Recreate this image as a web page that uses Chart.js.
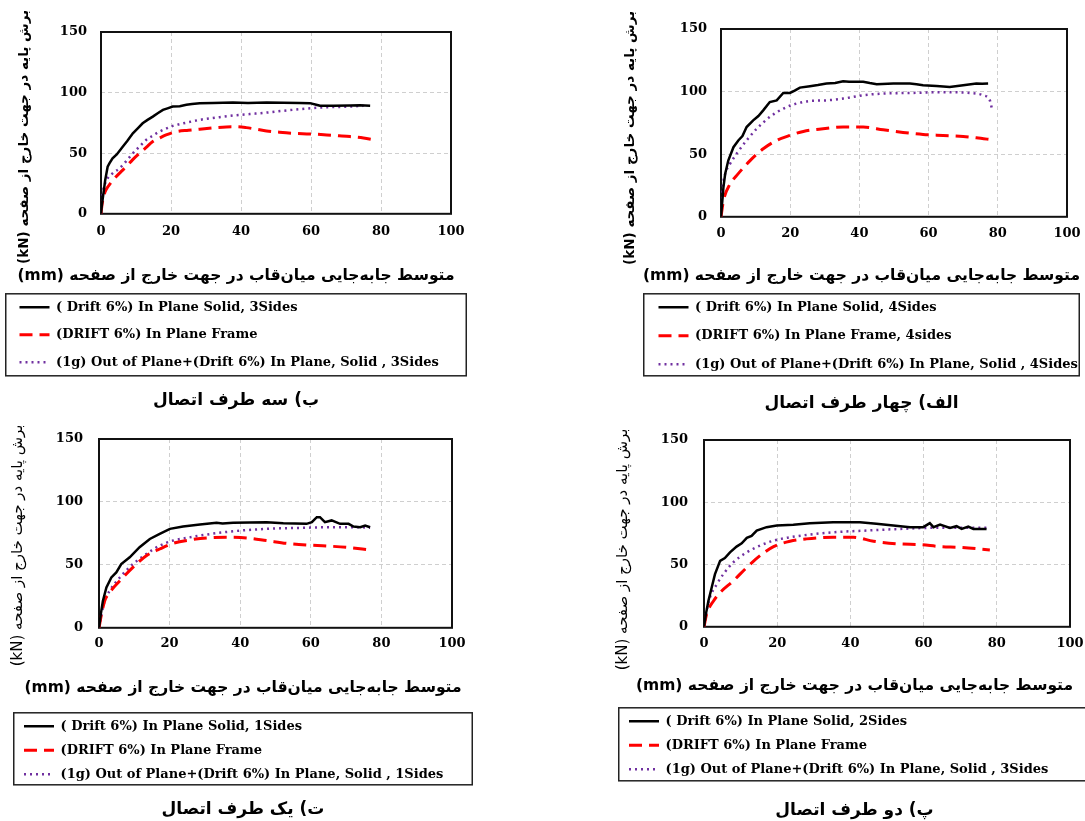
<!DOCTYPE html>
<html>
<head>
<meta charset="utf-8">
<script src="https://cdn.jsdelivr.net/npm/chart.js@4.4.1/dist/chart.umd.min.js"></script>
<style>
  html, body { margin: 0; padding: 0; background: #fff; }
  body { width: 1085px; height: 821px; position: relative; overflow: hidden; }
  canvas { position: absolute; }
</style>
</head>
<body>
<canvas id="c4"></canvas>
<canvas id="c3"></canvas>
<canvas id="c2"></canvas>
<canvas id="c1"></canvas>
<script>
// --- data (x = mm, y = kN) ---
const xTicks = [0, 20, 40, 60, 80, 100];
const yTicks = [0, 50, 100, 150];

// الف) four sides
const solid4X = [0, 0.7, 1.2, 2.1, 3.6, 5.0, 6.2, 7.4, 9.3, 10.8, 12.2, 14.1, 16.1, 18, 19.9, 21.3, 22.8, 25.7, 28, 30.5, 33, 35.3, 37, 41.1, 43, 45, 49.8, 54.6, 56.5, 58.4, 62.3, 66.1, 70, 73.8, 75.5, 77.2];
const solid4Y = [0, 23.5, 34.2, 44.9, 55.6, 61, 64.5, 71.7, 77, 80.5, 85, 91.7, 93, 98.9, 98.9, 100.8, 103.2, 104.3, 105.2, 106.4, 106.8, 108.3, 107.9, 107.8, 106.8, 105.9, 106.4, 106.4, 105.8, 105.1, 104.5, 103.7, 105.1, 106.4, 106.2, 106.4];
const frame4X = [0, 0.7, 2.6, 4.5, 8.4, 12.2, 16.1, 19.9, 23.8, 29.5, 35.3, 41.1, 46.9, 52.6, 58.4, 64.2, 70, 73.8, 78.4];
const frame4Y = [0, 12.8, 26.2, 32.9, 44.9, 54.3, 61, 65, 68.2, 70.3, 71.7, 71.7, 69.5, 67.4, 65.8, 65, 64.2, 63.1, 61.5];
const oop4X = [0, 0.5, 1.2, 2.6, 4.5, 7.4, 10.3, 14.1, 18, 21.8, 25.7, 30.5, 35.3, 41.1, 46.9, 54.6, 64.2, 71.9, 75.7, 77.7, 78.4];
const oop4Y = [0, 23.5, 34.2, 42.2, 50.3, 61, 70.3, 79.7, 86.4, 90.4, 92.5, 93, 94.4, 97.1, 98.4, 98.9, 99.5, 98.9, 97.1, 93, 85];

// ب) three sides
const solid3X = [0, 0.3, 0.7, 1.2, 1.9, 2.4, 3.3, 4.5, 6.2, 7.5, 9.1, 10.5, 11.9, 13.3, 14.8, 16.2, 17.7, 19, 20.5, 22.5, 24.4, 26, 28.2, 32, 37.7, 42, 47.3, 52, 56.8, 59.7, 61.5, 62.6, 66.4, 71.2, 74, 76.9];
const solid3Y = [0, 8.5, 16.8, 27.8, 38.9, 41.6, 45.8, 49, 55.4, 60, 66.4, 70.5, 74.7, 77.5, 80.2, 83, 85.7, 87, 88.5, 88.8, 89.9, 90.5, 91.3, 91.4, 91.8, 91.5, 91.8, 91.6, 91.5, 91.3, 90, 89.1, 89.1, 89.3, 89.5, 89.1];
const frame3X = [0, 0.1, 0.5, 1.0, 1.4, 2.8, 4.3, 5.8, 7.2, 9, 11, 13, 14.8, 16.7, 18.6, 21.5, 25, 28.2, 32, 35.8, 38.5, 41.5, 44, 47.3, 51, 54.9, 59.7, 64.5, 68, 71.2, 75, 78.3];
const frame3Y = [0, 3, 11.3, 16.8, 19.6, 25.5, 30.6, 35, 38.9, 44.5, 49.9, 55, 59.6, 62.5, 65.1, 67.8, 68.9, 69.8, 70.9, 71.7, 71.8, 71.1, 70, 68.4, 67.3, 66.4, 65.9, 65.1, 64.4, 63.7, 62.5, 60.9];
const oop3X = [0, 0.5, 1.4, 3.3, 5.3, 7.2, 9.1, 11, 12.9, 14.8, 16.7, 18.6, 20.5, 24.4, 28.2, 33, 37.7, 42.5, 47.3, 52, 56.8, 62.6, 67, 71.2, 75];
const oop3Y = [0, 16.8, 26.5, 33.4, 37.5, 43.5, 49.9, 55.5, 60.9, 64.5, 67.8, 70.3, 72.5, 75.2, 77.5, 79.4, 81.1, 82.3, 83.5, 85, 86.3, 87.7, 88.1, 88.5, 89.1];

// پ) two sides
const solid2X = [0, 0.5, 1.2, 2.1, 3, 4.4, 5.7, 7.1, 8.9, 10.3, 11.7, 13, 14.4, 17.1, 19.9, 24.4, 28.9, 35.3, 42.6, 47.1, 51.7, 56.3, 59.9, 61.7, 62.7, 64.5, 67.2, 69, 70.4, 72.2, 73.6, 77.2];
const solid2Y = [0, 10, 20.7, 31.5, 42.3, 53, 55.2, 59.8, 64.4, 67, 71.4, 73, 77.3, 80, 81.3, 81.9, 83.2, 84, 84, 82.7, 81.3, 80, 80, 83.2, 80, 82.1, 79.4, 80.8, 78.6, 80.5, 78.6, 78.6];
const frame2X = [0, 0.7, 2.6, 4.4, 8, 11.7, 15.3, 19, 23.5, 28, 35.3, 40.8, 46.3, 53.6, 59, 64.5, 70, 78.1];
const frame2Y = [0, 10, 20.7, 27.5, 36.9, 47.7, 57.1, 64.4, 68.7, 70.6, 71.9, 71.9, 68.7, 66.5, 66, 64.4, 63.8, 61.7];
const oop2X = [0, 0.7, 1.6, 3.5, 5.3, 8, 11.7, 15.3, 19, 23.5, 28, 35.3, 44.4, 53.6, 62.7, 71.8, 77.2];
const oop2Y = [0, 12.7, 23.4, 34.2, 42.3, 51.7, 59.8, 65.2, 69.2, 71.9, 73.8, 75.9, 77.3, 78.6, 79.5, 79.5, 79.5];

// ت) one side
const solid1X = [0, 0.5, 1.1, 2.1, 3.5, 4.9, 6.3, 8.7, 11.5, 14.4, 17.2, 20.1, 23.8, 28.6, 33.3, 35, 38, 47.5, 52.2, 58.8, 60.3, 61.7, 62.6, 64, 65.9, 68.3, 70.7, 72.1, 74, 75.4, 76.8];
const solid1Y = [0, 10.7, 21.3, 32, 40, 44, 50.6, 56, 64, 70.6, 74.6, 78.6, 80.5, 82.1, 83.4, 82.8, 83.4, 83.9, 83.1, 82.6, 83.9, 87.9, 87.9, 83.9, 85.3, 82.6, 82.6, 80.5, 79.9, 81.3, 79.9];
const frame1X = [0, 0.7, 1.6, 3, 5.9, 9.6, 13.4, 17.2, 21, 25.7, 30.5, 36.1, 41.8, 47.5, 53.1, 58.8, 64.5, 70.2, 76.8];
const frame1Y = [0, 10.7, 21.3, 28, 37.3, 48, 57.3, 62.6, 67.1, 69.8, 71.4, 71.9, 71.4, 69.3, 67.1, 65.8, 65, 63.9, 61.8];
const oop1X = [0, 0.7, 1.6, 3, 5.9, 9.6, 13.4, 17.2, 21, 24.8, 28.6, 38, 47.5, 56.9, 66.4, 74, 76.8];
const oop1Y = [0, 10.7, 21.3, 29.3, 40, 50.6, 58.6, 65.3, 69.3, 71.4, 73.3, 76.7, 78.6, 79.4, 79.9, 79.9, 79.4];

const yTitle = 'برش پایه در جهت خارج از صفحه (kN)';
const xTitle = 'متوسط جابه‌جایی میان‌قاب در جهت خارج از صفحه (mm)';

const SERIF = '"DejaVu Serif", "DejaVu Sans"';
const SANS = '"DejaVu Sans"';

// wrap Persian text in a right-to-left embedding
const rtl = s => '\u202B' + s + '\u202C';
const pts = (xs, ys) => xs.map((x, i) => ({x: x, y: ys[i]}));

// plot frame + legend border
const framePlugin = {
  id: 'frame',
  beforeDatasetsDraw(chart) {
    const {ctx, chartArea: a} = chart;
    ctx.save();
    ctx.strokeStyle = '#111';
    ctx.lineWidth = 2;
    ctx.strokeRect(a.left, a.top, a.right - a.left, a.bottom - a.top);
    ctx.restore();
  },
  afterDraw(chart, args, opts) {
    const lg = chart.legend;
    const pad = lg.options.labels.padding;
    const top = lg.top + pad - 7;
    const bottom = lg.bottom - 10 + opts.bottomGap;
    const ctx = chart.ctx;
    ctx.save();
    ctx.strokeStyle = '#222';
    ctx.lineWidth = 1.5;
    ctx.strokeRect(lg.left + 0.75, top, lg.right - lg.left - 1.5, bottom - top);
    ctx.restore();
  }
};

// rotated y title (longer than the plot is tall, so drawn here)
const yTitlePlugin = {
  id: 'yTitle',
  afterDraw(chart, args, opts) {
    const {ctx, chartArea: a} = chart;
    ctx.save();
    ctx.translate(opts.x, (a.top + a.bottom) / 2 + opts.shift);
    ctx.rotate(-Math.PI / 2);
    ctx.font = opts.weight + ' ' + opts.size + 'px ' + SANS;
    ctx.fillStyle = '#000';
    ctx.textAlign = 'center';
    ctx.textBaseline = 'middle';
    ctx.fillText(rtl(yTitle), 0, 0);
    ctx.restore();
  }
};

function legendLabels(chart) {
  const items = Chart.defaults.plugins.legend.labels.generateLabels(chart);
  items.forEach(it => {
    const ds = chart.data.datasets[it.datasetIndex];
    it.lineDash = ds.borderDash || [];
    it.lineWidth = ds.borderWidth;
    it.strokeStyle = ds.borderColor;
    it.pointStyle = 'line';
  });
  return items;
}

function makePanel(id, p) {
  const tickSize = 13, xtSize = 15.5, capSize = 17, legSize = 13;
  const tickLH = tickSize * 1.2, xtLH = xtSize * 1.2, capLH = capSize * 1.2;
  const labelPad = p.rowGap - legSize;
  const tickPadX = p.tickY - p.plotB - tickLH / 2;
  const xScaleH = p.xTitleY - p.plotB - xtLH / 2;
  const legendTop = p.boxTop + 7 - labelPad;
  const subPadBottom = legendTop - (p.xTitleY + xtLH / 2);
  const legendBottom = legendTop + 3 * p.rowGap + 10;
  const capPadTop = p.captionY - capLH / 2 - legendBottom;
  const H = p.captionY + capLH / 2 + 4;

  const cv = document.getElementById(id);
  cv.width = p.W;
  cv.height = Math.ceil(H);
  cv.style.left = p.left + 'px';
  cv.style.top = p.top + 'px';

  const grid = {color: '#cfcfcf', lineWidth: 1, drawTicks: false};
  const border = {display: false, dash: [4, 3]};
  const tickFont = {family: SERIF, size: tickSize, weight: 'bold'};

  return new Chart(cv, {
    type: 'line',
    data: {
      datasets: [
        {label: p.labels[0], data: pts(p.sx, p.sy), borderColor: '#000', backgroundColor: '#000',
         borderWidth: 2.5, pointRadius: 0, tension: 0},
        {label: p.labels[1], data: pts(p.fx, p.fy), borderColor: '#ff0000', backgroundColor: '#ff0000',
         borderWidth: 3, borderDash: [13, 7], pointRadius: 0, cubicInterpolationMode: 'monotone'},
        {label: p.labels[2], data: pts(p.ox, p.oy), borderColor: '#7030a0', backgroundColor: '#7030a0',
         borderWidth: 2.5, borderDash: [2, 4], pointRadius: 0, cubicInterpolationMode: 'monotone'}
      ]
    },
    options: {
      responsive: false,
      animation: false,
      devicePixelRatio: 1,
      layout: {padding: {left: p.padL, right: p.padR, top: p.plotT, bottom: 0}},
      scales: {
        x: {
          type: 'linear', min: 0, max: 100,
          afterBuildTicks: s => { s.ticks = xTicks.map(v => ({value: v})); },
          afterFit: s => { s.height = xScaleH; s.paddingRight = p.W - p.plotR; },
          grid: grid, border: border,
          ticks: {font: tickFont, color: '#000', padding: tickPadX, maxRotation: 0}
        },
        y: {
          type: 'linear', min: 0, max: 150,
          afterBuildTicks: s => { s.ticks = yTicks.map(v => ({value: v})); },
          afterFit: s => { s.width = p.plotL - p.padL; },
          grid: grid, border: border,
          ticks: {font: tickFont, color: '#000', padding: p.tickPadY}
        }
      },
      plugins: {
        legend: {
          position: 'bottom', align: 'start', fullSize: true,
          labels: {
            usePointStyle: true, pointStyle: 'line', pointStyleWidth: 30,
            padding: labelPad, color: '#000', generateLabels: legendLabels,
            font: {family: SERIF, size: legSize, weight: 'bold'}
          }
        },
        subtitle: {
          display: true, text: rtl(xTitle), position: 'bottom', weight: 500, fullSize: true,
          color: '#000', font: {family: SANS, size: xtSize, weight: 'bold'},
          padding: {top: 0, bottom: subPadBottom}
        },
        title: {
          display: true, text: rtl(p.caption), position: 'bottom', weight: 2000, fullSize: true,
          color: '#000', font: {family: SANS, size: capSize, weight: 'bold'},
          padding: {top: capPadTop, bottom: 4}
        },
        tooltip: {enabled: false},
        frame: {bottomGap: p.boxGap},
        yTitle: {x: p.yTitleX, shift: p.yTitleShift, size: p.yTitleSize, weight: p.yTitleWeight}
      }
    },
    plugins: [framePlugin, yTitlePlugin]
  });
}

// top right: four sides
makePanel('c1', {
  left: 605, top: 0, W: 480, padL: 38, padR: 5,
  plotL: 116, plotR: 462, plotT: 29, plotB: 216, tickPadY: 14,
  tickY: 233, xTitleY: 275, boxTop: 293, rowGap: 28.5, boxGap: 5, captionY: 403,
  yTitleX: 25, yTitleShift: 15, yTitleSize: 13.5, yTitleWeight: 'bold',
  caption: 'الف) چهار طرف اتصال',
  labels: ['( Drift 6%) In Plane Solid, 4Sides', '(DRIFT 6%) In Plane Frame, 4sides',
           '(1g) Out of Plane+(Drift 6%) In Plane, Solid , 4Sides'],
  sx: solid4X, sy: solid4Y, fx: frame4X, fy: frame4Y, ox: oop4X, oy: oop4Y
});

// top left: three sides
makePanel('c2', {
  left: 0, top: 0, W: 480, padL: 5, padR: 13,
  plotL: 101, plotR: 451, plotT: 32, plotB: 213, tickPadY: 14,
  tickY: 231, xTitleY: 275, boxTop: 293, rowGap: 27.5, boxGap: 7, captionY: 400,
  yTitleX: 24, yTitleShift: 14, yTitleSize: 13.5, yTitleWeight: 'bold',
  caption: 'ب) سه طرف اتصال',
  labels: ['( Drift 6%) In Plane Solid, 3Sides', '(DRIFT 6%) In Plane Frame',
           '(1g) Out of Plane+(Drift 6%) In Plane, Solid , 3Sides'],
  sx: solid3X, sy: solid3Y, fx: frame3X, fy: frame3Y, ox: oop3X, oy: oop3Y
});

// bottom right: two sides (legend box runs off the right edge)
makePanel('c3', {
  left: 605, top: 415, W: 486, padL: 13, padR: 0,
  plotL: 99, plotR: 465, plotT: 25, plotB: 211, tickPadY: 16,
  tickY: 228, xTitleY: 270, boxTop: 292, rowGap: 24, boxGap: 5, captionY: 395,
  yTitleX: 18, yTitleShift: 16, yTitleSize: 15, yTitleWeight: 'normal',
  caption: 'پ) دو طرف اتصال',
  labels: ['( Drift 6%) In Plane Solid, 2Sides', '(DRIFT 6%) In Plane Frame',
           '(1g) Out of Plane+(Drift 6%) In Plane, Solid , 3Sides'],
  sx: solid2X, sy: solid2Y, fx: frame2X, fy: frame2Y, ox: oop2X, oy: oop2Y
});

// bottom left: one side
makePanel('c4', {
  left: 0, top: 415, W: 480, padL: 13, padR: 7,
  plotL: 99, plotR: 452, plotT: 24, plotB: 212, tickPadY: 16,
  tickY: 228, xTitleY: 272, boxTop: 297, rowGap: 24, boxGap: 4, captionY: 394,
  yTitleX: 18, yTitleShift: 12, yTitleSize: 15, yTitleWeight: 'normal',
  caption: 'ت) یک طرف اتصال',
  labels: ['( Drift 6%) In Plane Solid, 1Sides', '(DRIFT 6%) In Plane Frame',
           '(1g) Out of Plane+(Drift 6%) In Plane, Solid , 1Sides'],
  sx: solid1X, sy: solid1Y, fx: frame1X, fy: frame1Y, ox: oop1X, oy: oop1Y
});
</script>
</body>
</html>
